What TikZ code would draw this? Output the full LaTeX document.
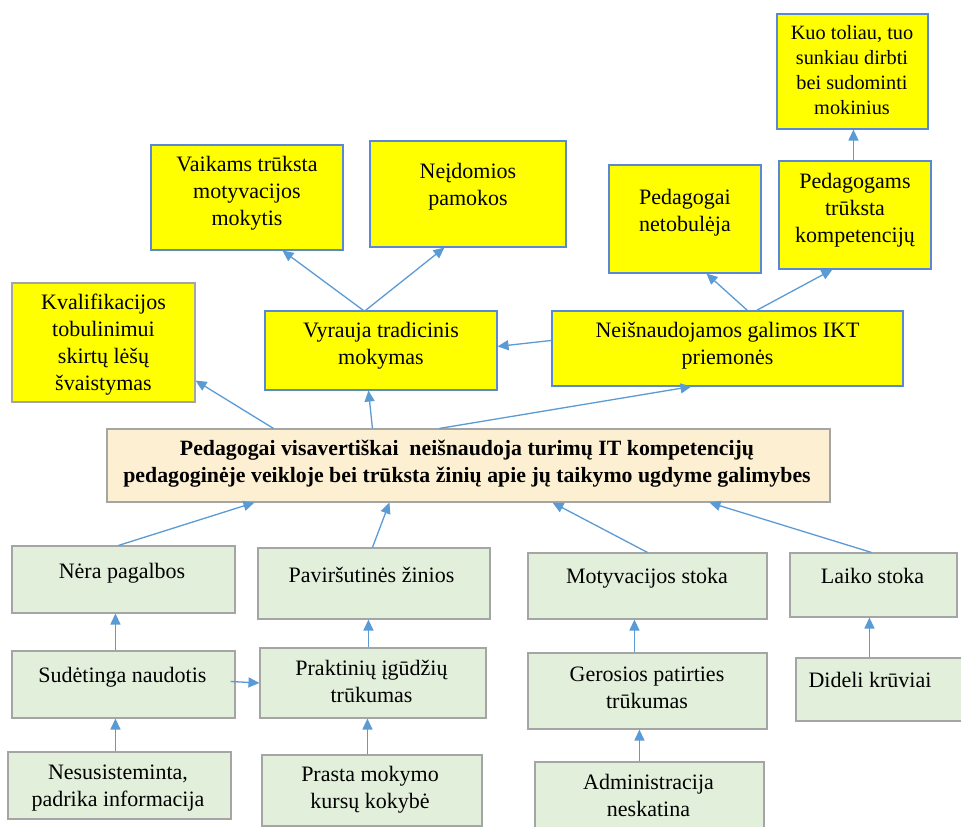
\documentclass[tikz,border=0pt]{standalone}
\usepackage{fontspec}
\setmainfont{LiberationSerif}[Extension=.ttf, UprightFont=*-Regular, BoldFont=*-Bold, ItalicFont=*-Italic, BoldItalicFont=*-BoldItalic]
\usetikzlibrary{arrows.meta}
\definecolor{boxyellow}{RGB}{255,255,0}
\definecolor{boxblue}{RGB}{88,136,214}
\definecolor{arrowblue}{RGB}{91,155,213}
\definecolor{boxgreen}{RGB}{226,239,218}
\definecolor{boxgrey}{RGB}{165,165,165}
\definecolor{boxpeach}{RGB}{253,239,209}
\tikzset{
  ybox/.style={draw=boxblue, fill=boxyellow, line width=1.1pt, inner sep=0pt},
  gbox/.style={draw=boxgrey, fill=boxgreen, line width=1.1pt, inner sep=0pt},
  cbox/.style={draw=boxgrey, fill=boxpeach, line width=1.1pt, inner sep=0pt},
  txt/.style={align=center, inner sep=0pt, font=\fontsize{22}{27}\selectfont},
  smalltxt/.style={align=center, inner sep=0pt, font=\fontsize{20.3}{25}\selectfont},
  boldtxt/.style={align=center, inner sep=0pt, font=\fontsize{21.8}{27}\selectfont\bfseries},
  arr/.style={draw=arrowblue, line width=1.3pt, -{Triangle[length=11pt,width=10pt]}},
}
\newcommand{\boxat}[5]{%
  \node[#1, minimum width=#4pt, minimum height=#5pt] (#2) at (#3) {};}
\begin{document}
\begin{tikzpicture}[x=1pt,y=1pt]
\clip (0,0) rectangle (961,827);
\fill[white] (0,0) rectangle (961,827);

% upper (yellow) consequences
\boxat{ybox}{kuo}{852.5,755.5}{151}{115}
\boxat{ybox}{pgms}{855,612}{152}{108}
\boxat{ybox}{pnet}{685,608}{152}{108}
\boxat{ybox}{vaik}{247,629.5}{192}{105}
\boxat{ybox}{neid}{468,633}{196}{106}
\boxat{ybox, draw=boxgrey}{kval}{103.5,484.5}{183}{119}
\boxat{ybox}{vyr}{381,476.5}{232}{79}
\boxat{ybox}{neis}{727.5,478.5}{351}{75}

% central problem
\boxat{cbox}{central}{468.5,361.5}{723}{73}

% lower (green) causes
\boxat{gbox}{nera}{123.5,247.5}{223}{67}
\boxat{gbox}{pav}{374,243.5}{232}{71}
\boxat{gbox}{sud}{123.5,142.5}{223}{67}
\boxat{gbox}{prak}{373,144}{226}{70}
\boxat{gbox}{nesu}{119.5,41.5}{223}{67}
\boxat{gbox}{prasta}{372,36.5}{220}{71}
\boxat{gbox}{mot}{647.5,241}{239}{66}
\boxat{gbox}{laiko}{873.5,242}{167}{64}
\boxat{gbox}{ger}{647.5,136}{239}{76}
\boxat{gbox}{did}{880.5,137.5}{169}{63}
\boxat{gbox}{adm}{649.5,30}{229}{70}

% texts
\node[smalltxt] (kuo-t) at (852,757) {Kuo toliau, tuo\\sunkiau dirbti\\bei sudominti\\mokinius};
\node[txt] (pgms-t) at (855,617) {Pedagogams\\trūksta\\kompetencijų};
\node[txt] (pnet-t) at (685,614) {Pedagogai\\netobulėja};
\node[txt] (vaik-t) at (247,634) {Vaikams trūksta\\motyvacijos\\mokytis};
\node[txt] (neid-t) at (468,640) {Neįdomios\\pamokos};
\node[txt] (kval-t) at (103.5,482) {Kvalifikacijos\\tobulinimui\\skirtų lėšų\\švaistymas};
\node[txt] (vyr-t) at (381,481) {Vyrauja tradicinis\\mokymas};
\node[txt] (neis-t) at (727.5,481.5) {Neišnaudojamos galimos IKT\\priemonės};
\node[boldtxt] (central-t) at (467,363.5) {Pedagogai visavertiškai\hspace{0.25em} neišnaudoja turimų IT kompetencijų\\pedagoginėje veikloje bei trūksta žinių apie jų taikymo ugdyme galimybes};
\node[txt] (nera-t) at (122,254) {Nėra pagalbos};
\node[txt] (pav-t) at (371.5,252) {Paviršutinės žinios};
\node[txt] (sud-t) at (122.5,150) {Sudėtinga naudotis};
\node[txt] (prak-t) at (371.5,145.5) {Praktinių įgūdžių\\trūkumas};
\node[txt] (nesu-t) at (118,38.5) {Nesusisteminta,\\padrika informacija};
\node[txt] (prasta-t) at (370,37.5) {Prasta mokymo\\kursų kokybė};
\node[txt] (mot-t) at (647,249) {Motyvacijos stoka};
\node[txt] (laiko-t) at (872.5,251) {Laiko stoka};
\node[txt] (ger-t) at (647,139) {Gerosios patirties\\trūkumas};
\node[txt] (did-t) at (870,147) {Dideli krūviai};
\node[txt] (adm-t) at (648.5,31.5) {Administracija\\neskatina};

% consequences of the central problem
\draw[arr] ([xshift=167pt]central.north west) -- ([yshift=22pt]kval.south east);
\draw[arr] ([xshift=266pt]central.north west) -- ([xshift=104pt]vyr.south west);
\draw[arr] ([xshift=333pt]central.north west) -- ([xshift=140pt]neis.south west);
\draw[arr] ([yshift=-30pt]neis.north west) -- ([yshift=-36pt]vyr.north east);
\draw[arr] ([xshift=99pt]vyr.north west) -- ([xshift=132pt]vaik.south west);
\draw[arr] ([xshift=101pt]vyr.north west) -- ([xshift=75pt]neid.south west);
\draw[arr] ([xshift=196pt]neis.north west) -- ([xshift=98pt]pnet.south west);
\draw[arr] ([xshift=205pt]neis.north west) -- ([xshift=54pt]pgms.south west);
\draw[arr] ([xshift=75pt]pgms.north west) -- ([xshift=77pt]kuo.south west);

% causes leading to the central problem
\draw[arr] ([xshift=107pt]nera.north west) -- ([xshift=148pt]central.south west);
\draw[arr] ([xshift=115pt]pav.north west) -- ([xshift=283pt]central.south west);
\draw[arr] ([xshift=120pt]mot.north west) -- ([xshift=446pt]central.south west);
\draw[arr] ([xshift=82pt]laiko.north west) -- ([xshift=603pt]central.south west);
\draw[arr] ([xshift=104pt]sud.north west) -- ([xshift=104pt]nera.south west);
\draw[arr] ([xshift=108pt]nesu.north west) -- ([xshift=104pt]sud.south west);
\draw[arr] ([xshift=-5pt,yshift=3pt]sud.east) -- (prak.west);
\draw[arr] ([xshift=109pt]prak.north west) -- ([xshift=111pt]pav.south west);
\draw[arr] ([xshift=106pt]prasta.north west) -- ([xshift=108pt]prak.south west);
\draw[arr] ([xshift=107pt]ger.north west) -- ([xshift=107pt]mot.south west);
\draw[arr] ([xshift=105pt]adm.north west) -- ([xshift=112pt]ger.south west);
\draw[arr] ([xshift=74pt]did.north west) -- ([xshift=80pt]laiko.south west);
\end{tikzpicture}
\end{document}
